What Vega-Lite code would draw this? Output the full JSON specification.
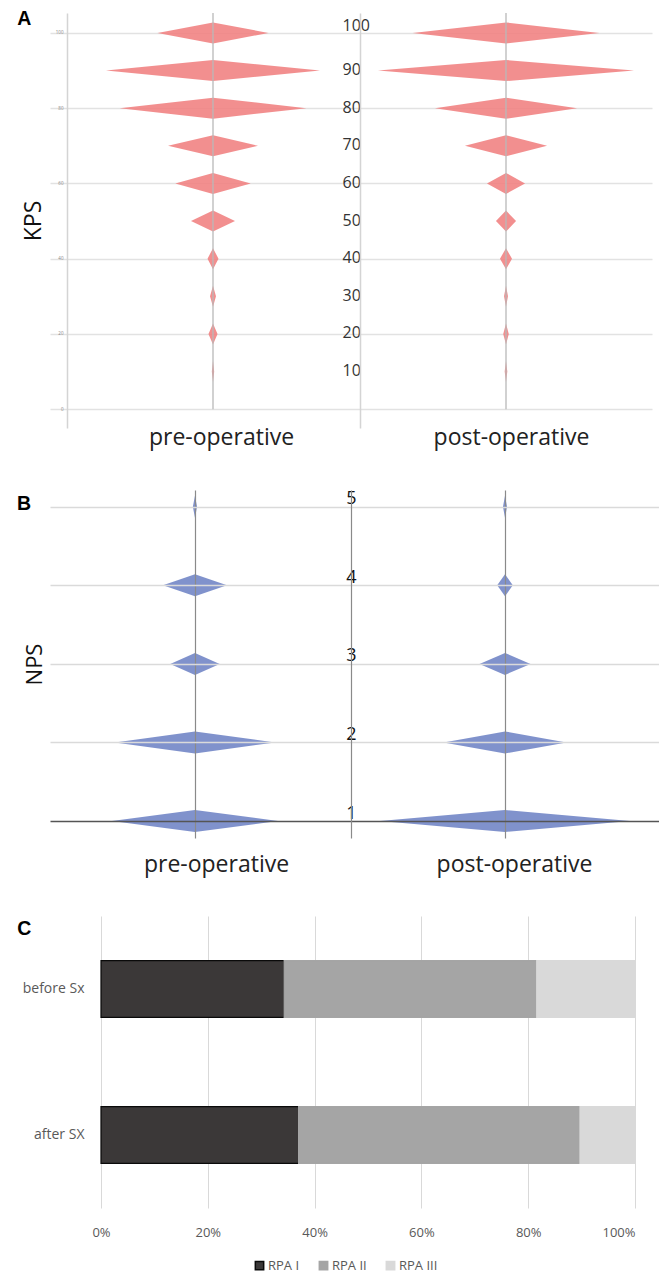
{
  "$schema": "https://vega.github.io/schema/vega-lite/v6.json",
  "background": "white",
  "padding": {"left": 17, "top": 8, "right": 0, "bottom": 0},
  "config": {
    "view": {"stroke": null},
    "font": "Open Sans",
    "axis": {"labelFont": "Open Sans", "titleFont": "Open Sans", "titleFontWeight": "normal"}
  },
  "datasets": {
    "kps": [
      {"p": "pre", "KPS": 97.2, "density": 0}, {"p": "pre", "KPS": 100, "density": 0.759}, {"p": "pre", "KPS": 102.8, "density": 0},
      {"p": "pre", "KPS": 87.2, "density": 0}, {"p": "pre", "KPS": 90, "density": 1.463}, {"p": "pre", "KPS": 92.8, "density": 0},
      {"p": "pre", "KPS": 77.2, "density": 0}, {"p": "pre", "KPS": 80, "density": 1.276}, {"p": "pre", "KPS": 82.8, "density": 0},
      {"p": "pre", "KPS": 67.2, "density": 0}, {"p": "pre", "KPS": 70, "density": 0.615}, {"p": "pre", "KPS": 72.8, "density": 0},
      {"p": "pre", "KPS": 57.2, "density": 0}, {"p": "pre", "KPS": 60, "density": 0.516}, {"p": "pre", "KPS": 62.8, "density": 0},
      {"p": "pre", "KPS": 47.2, "density": 0}, {"p": "pre", "KPS": 50, "density": 0.301}, {"p": "pre", "KPS": 52.8, "density": 0},
      {"p": "pre", "KPS": 37.2, "density": 0}, {"p": "pre", "KPS": 40, "density": 0.075}, {"p": "pre", "KPS": 42.8, "density": 0},
      {"p": "pre", "KPS": 27.2, "density": 0}, {"p": "pre", "KPS": 30, "density": 0.041}, {"p": "pre", "KPS": 32.8, "density": 0},
      {"p": "pre", "KPS": 17.2, "density": 0}, {"p": "pre", "KPS": 20, "density": 0.062}, {"p": "pre", "KPS": 22.8, "density": 0},
      {"p": "pre", "KPS": 7.2, "density": 0}, {"p": "pre", "KPS": 10, "density": 0.016}, {"p": "pre", "KPS": 12.8, "density": 0},
      {"p": "post", "KPS": 97.2, "density": 0}, {"p": "post", "KPS": 100, "density": 1.276}, {"p": "post", "KPS": 102.8, "density": 0},
      {"p": "post", "KPS": 87.2, "density": 0}, {"p": "post", "KPS": 90, "density": 1.75}, {"p": "post", "KPS": 92.8, "density": 0},
      {"p": "post", "KPS": 77.2, "density": 0}, {"p": "post", "KPS": 80, "density": 0.971}, {"p": "post", "KPS": 82.8, "density": 0},
      {"p": "post", "KPS": 67.2, "density": 0}, {"p": "post", "KPS": 70, "density": 0.561}, {"p": "post", "KPS": 72.8, "density": 0},
      {"p": "post", "KPS": 57.2, "density": 0}, {"p": "post", "KPS": 60, "density": 0.26}, {"p": "post", "KPS": 62.8, "density": 0},
      {"p": "post", "KPS": 47.2, "density": 0}, {"p": "post", "KPS": 50, "density": 0.137}, {"p": "post", "KPS": 52.8, "density": 0},
      {"p": "post", "KPS": 37.2, "density": 0}, {"p": "post", "KPS": 40, "density": 0.082}, {"p": "post", "KPS": 42.8, "density": 0},
      {"p": "post", "KPS": 27.2, "density": 0}, {"p": "post", "KPS": 30, "density": 0.027}, {"p": "post", "KPS": 32.8, "density": 0},
      {"p": "post", "KPS": 17.2, "density": 0}, {"p": "post", "KPS": 20, "density": 0.038}, {"p": "post", "KPS": 22.8, "density": 0},
      {"p": "post", "KPS": 7.2, "density": 0}, {"p": "post", "KPS": 10, "density": 0.018}, {"p": "post", "KPS": 12.8, "density": 0}
    ],
    "nps": [
      {"p": "pre", "NPS": 4.86, "density": 0}, {"p": "pre", "NPS": 5, "density": 0.027}, {"p": "pre", "NPS": 5.14, "density": 0},
      {"p": "pre", "NPS": 3.86, "density": 0}, {"p": "pre", "NPS": 4, "density": 0.41}, {"p": "pre", "NPS": 4.14, "density": 0},
      {"p": "pre", "NPS": 2.86, "density": 0}, {"p": "pre", "NPS": 3, "density": 0.317}, {"p": "pre", "NPS": 3.14, "density": 0},
      {"p": "pre", "NPS": 1.86, "density": 0}, {"p": "pre", "NPS": 2, "density": 1.026}, {"p": "pre", "NPS": 2.14, "density": 0},
      {"p": "pre", "NPS": 0.86, "density": 0}, {"p": "pre", "NPS": 1, "density": 1.064}, {"p": "pre", "NPS": 1.14, "density": 0},
      {"p": "post", "NPS": 4.86, "density": 0}, {"p": "post", "NPS": 5, "density": 0.026}, {"p": "post", "NPS": 5.14, "density": 0},
      {"p": "post", "NPS": 3.86, "density": 0}, {"p": "post", "NPS": 4, "density": 0.1}, {"p": "post", "NPS": 4.14, "density": 0},
      {"p": "post", "NPS": 2.86, "density": 0}, {"p": "post", "NPS": 3, "density": 0.327}, {"p": "post", "NPS": 3.14, "density": 0},
      {"p": "post", "NPS": 1.86, "density": 0}, {"p": "post", "NPS": 2, "density": 0.787}, {"p": "post", "NPS": 2.14, "density": 0},
      {"p": "post", "NPS": 0.86, "density": 0}, {"p": "post", "NPS": 1, "density": 1.603}, {"p": "post", "NPS": 1.14, "density": 0}
    ],
    "rpa": [
      {"time": "before Sx", "rpa": "RPA I", "pct": 34.3},
      {"time": "before Sx", "rpa": "RPA II", "pct": 47.3},
      {"time": "before Sx", "rpa": "RPA III", "pct": 18.4},
      {"time": "after SX", "rpa": "RPA I", "pct": 37.0},
      {"time": "after SX", "rpa": "RPA II", "pct": 52.7},
      {"time": "after SX", "rpa": "RPA III", "pct": 10.3}
    ]
  },
  "spacing": 40,
  "align": "none",
  "vconcat": [
    {
      "title": {"text": "A", "anchor": "start", "frame": "bounds", "offset": -32, "baseline": "alphabetic", "dx": -5, "fontSize": 19.5, "fontWeight": "bold", "font": "Liberation Sans", "color": "#000000"},
      "spacing": 0,
      "bounds": "flush",
      "hconcat": [
        {
          "width": 310,
          "height": 415,
          "layer": [
            {
              "data": {"name": "kps"},
              "transform": [{"filter": "datum.p == 'pre'"}],
              "mark": {"type": "area", "orient": "horizontal", "color": "#f08080", "opacity": 0.88},
              "encoding": {
                "y": {"field": "KPS", "type": "quantitative", "scale": {"domain": [-5, 105.3], "nice": false, "zero": false},
                  "axis": {"values": [0, 20, 40, 60, 80, 100], "offset": -17, "labelFontSize": 4.5, "labelColor": "#888888", "labelPadding": 4, "ticks": false, "tickSize": 0,
                    "domain": true, "domainColor": "#d4d4d4", "domainWidth": 1.5, "grid": true, "gridColor": "#e2e2e2", "gridWidth": 1.5,
                    "title": "KPS", "titleFontSize": 23, "titleColor": "#111111", "titlePadding": 10}},
                "x": {"field": "density", "type": "quantitative", "stack": "center", "scale": {"domain": [-0.383, 1.7366], "nice": false, "zero": false},
                  "axis": {"labels": false, "ticks": false, "domain": false, "grid": false, "title": "pre-operative", "titleFontSize": 23, "titleColor": "#222222", "titlePadding": -2, "titleX": 171}}
              }
            },
            {
              "data": {"values": [{}]},
              "mark": {"type": "rule", "color": "#b8b8b8", "strokeWidth": 1.3},
              "encoding": {
                "x": {"datum": 0.7315},
                "y": {"datum": 0, "scale": {"domain": [-5, 105.3], "nice": false, "zero": false}},
                "y2": {"datum": 105.3}
              }
            }
          ]
        },
        {
          "width": 292,
          "height": 415,
          "layer": [
            {
              "data": {"name": "kps"},
              "transform": [{"filter": "datum.p == 'post'"}],
              "mark": {"type": "area", "orient": "horizontal", "color": "#f08080", "opacity": 0.88},
              "encoding": {
                "y": {"field": "KPS", "type": "quantitative", "scale": {"domain": [-5, 105.3], "nice": false, "zero": false},
                  "axis": {"values": [0, 10, 20, 30, 40, 50, 60, 70, 80, 90, 100], "labelExpr": "datum.value == 0 ? '' : datum.label",
                    "labelAlign": "left", "labelBaseline": "middle", "labelPadding": 18, "ticks": false, "tickSize": 0,
                    "labelOffset": {"condition": {"test": "datum.value == 100", "value": -7}, "value": -1},
                    "labelFontSize": 16, "labelColor": "#333333",
                    "domain": true, "domainColor": "#d4d4d4", "domainWidth": 1.5, "grid": true, "gridColor": "#e2e2e2", "gridWidth": 1.5,
                    "gridOpacity": {"condition": {"test": "datum.value % 20 == 0", "value": 1}, "value": 0},
                    "title": null}},
                "x": {"field": "density", "type": "quantitative", "stack": "center", "scale": {"domain": [-0.123, 1.873], "nice": false, "zero": false},
                  "axis": {"labels": false, "ticks": false, "domain": false, "grid": false, "title": "post-operative", "titleFontSize": 23, "titleColor": "#222222", "titlePadding": -2, "titleX": 151}}
              }
            },
            {
              "data": {"values": [{}]},
              "mark": {"type": "rule", "color": "#b8b8b8", "strokeWidth": 1.3},
              "encoding": {
                "x": {"datum": 0.875},
                "y": {"datum": 0, "scale": {"domain": [-5, 105.3], "nice": false, "zero": false}},
                "y2": {"datum": 105.3}
              }
            }
          ]
        }
      ]
    },
    {
      "title": {"text": "B", "anchor": "start", "frame": "bounds", "offset": -40, "baseline": "alphabetic", "dx": -6, "fontSize": 19.5, "fontWeight": "bold", "font": "Liberation Sans", "color": "#000000"},
      "spacing": 0,
      "bounds": "flush",
      "hconcat": [
        {
          "width": 301,
          "height": 348,
          "data": {"name": "nps"},
          "transform": [{"filter": "datum.p == 'pre'"}],
          "mark": {"type": "area", "orient": "horizontal", "color": "#6a7fc3", "opacity": 0.85},
          "encoding": {
            "y": {"field": "NPS", "type": "quantitative", "scale": {"domain": [0.784, 5.213], "nice": false, "zero": false},
              "axis": {"values": [1, 2, 3, 4, 5], "labels": false, "ticks": false, "domain": false, "grid": true, "zindex": 1, "gridWidth": 1.5,
                "gridColor": {"condition": {"test": "datum.value == 1", "value": "#555555"}, "value": "#dadada"},
                "title": "NPS", "titleFontSize": 22, "titleColor": "#111111", "titlePadding": 4}},
            "x": {"field": "density", "type": "quantitative", "stack": "center", "scale": {"domain": [-0.397, 1.532], "nice": false, "zero": false},
              "axis": {"values": [0.532], "labels": false, "ticks": false, "domain": false, "grid": true, "gridColor": "#8a8a8a", "gridWidth": 1.2, "zindex": 1,
                "title": "pre-operative", "titleFontSize": 23, "titleColor": "#222222", "titlePadding": 15, "titleX": 166}}
          }
        },
        {
          "width": 308,
          "height": 348,
          "data": {"name": "nps"},
          "transform": [{"filter": "datum.p == 'post'"}],
          "mark": {"type": "area", "orient": "horizontal", "color": "#6a7fc3", "opacity": 0.85},
          "encoding": {
            "y": {"field": "NPS", "type": "quantitative", "scale": {"domain": [0.784, 5.213], "nice": false, "zero": false},
              "axis": {"values": [1, 2, 3, 4, 5], "labelAlign": "center", "labelBaseline": "alphabetic", "labelPadding": 0, "labelOffset": -3, "ticks": false, "tickSize": 0,
                "labelFontSize": 18, "labelColor": "#111111", "zindex": 2,
                "domain": true, "domainColor": "#8a8a8a", "domainWidth": 1.2, "grid": true, "gridWidth": 1.5,
                "gridColor": {"condition": {"test": "datum.value == 1", "value": "#555555"}, "value": "#dadada"},
                "title": null}},
            "x": {"field": "density", "type": "quantitative", "stack": "center", "scale": {"domain": [-0.1855, 1.7885], "nice": false, "zero": false},
              "axis": {"values": [0.8015], "labels": false, "ticks": false, "domain": false, "grid": true, "gridColor": "#8a8a8a", "gridWidth": 1.2, "zindex": 1,
                "title": "post-operative", "titleFontSize": 23, "titleColor": "#222222", "titlePadding": 15, "titleX": 163}}
          }
        }
      ]
    },
    {
      "title": {"text": "C", "anchor": "start", "frame": "bounds", "offset": -38, "baseline": "alphabetic", "dx": -5, "fontSize": 19.5, "fontWeight": "bold", "font": "Liberation Sans", "color": "#000000"},
      "width": 585,
      "height": 292,
      "data": {"name": "rpa"},
      "mark": {"type": "bar", "strokeWidth": 1.2},
      "encoding": {
        "y": {"field": "time", "type": "nominal", "sort": ["before Sx", "after SX"], "scale": {"paddingInner": 0.61, "paddingOuter": 0.305},
          "axis": {"title": null, "domain": false, "ticks": false, "tickSize": 0, "labelColor": "#595959", "labelFontSize": 14, "labelPadding": -34}},
        "x": {"field": "pct", "type": "quantitative", "stack": "normalize", "scale": {"domain": [-0.0955, 1], "nice": false, "zero": false},
          "axis": {"format": ".0%", "values": [0, 0.2, 0.4, 0.6, 0.8, 1], "grid": true, "gridColor": "#d9d9d9", "domain": false, "ticks": false,
            "labelPadding": 18, "labelColor": "#595959", "labelFontSize": 13, "title": null}},
        "color": {"field": "rpa", "type": "nominal", "scale": {"domain": ["RPA I", "RPA II", "RPA III"], "range": ["#3b3838", "#a5a5a5", "#d9d9d9"]},
          "legend": {"orient": "none", "legendX": 203, "legendY": 1246, "direction": "horizontal", "title": null, "symbolType": "square", "symbolSize": 70, "labelFontSize": 13, "labelColor": "#595959", "columnPadding": 16, "labelOffset": 2}},
        "stroke": {"field": "rpa", "type": "nominal", "scale": {"domain": ["RPA I", "RPA II", "RPA III"], "range": ["#0a0a0a", "#a5a5a5", "#d9d9d9"]},
          "legend": {"orient": "none", "legendX": 203, "legendY": 1246, "direction": "horizontal", "title": null, "symbolType": "square", "symbolSize": 70, "labelFontSize": 13, "labelColor": "#595959", "columnPadding": 16, "labelOffset": 2}}
      }
    }
  ]
}
